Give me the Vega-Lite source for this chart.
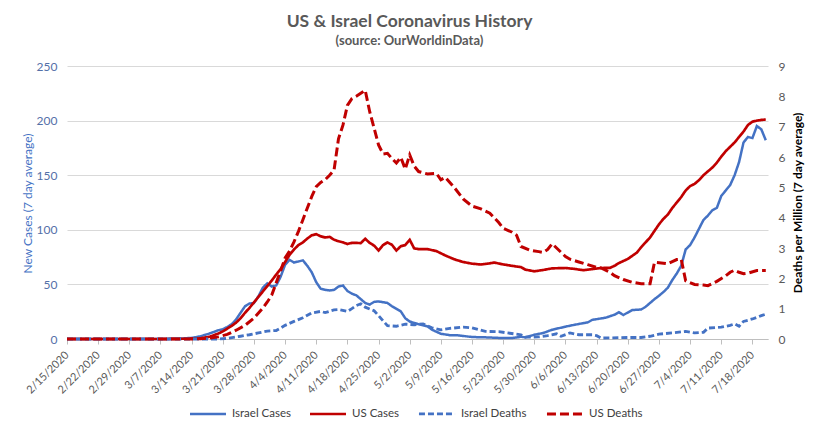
{
  "$schema": "https://vega.github.io/schema/vega-lite/v6.json",
  "description": "US & Israel coronavirus history, new cases and deaths per million (7 day average).",
  "width": 701,
  "height": 273,
  "autosize": "none",
  "padding": {"left": 67, "top": 66, "right": 54, "bottom": 96},
  "background": "white",
  "title": {
    "text": "US & Israel Coronavirus History",
    "subtitle": "(source: OurWorldinData)",
    "anchor": "middle",
    "frame": "group",
    "dx": -8,
    "offset": 12,
    "fontSize": 17.5,
    "fontWeight": "bold",
    "color": "#595959",
    "subtitleFontSize": 13,
    "subtitleFontWeight": "bold",
    "subtitleColor": "#595959",
    "subtitlePadding": 5
  },
  "data": {
    "values": [
      {"date": "2020-02-15", "series": "Israel Cases", "value": 0},
      {"date": "2020-03-08", "series": "Israel Cases", "value": 0},
      {"date": "2020-03-11", "series": "Israel Cases", "value": 0.3},
      {"date": "2020-03-14", "series": "Israel Cases", "value": 1},
      {"date": "2020-03-16", "series": "Israel Cases", "value": 2.5},
      {"date": "2020-03-18", "series": "Israel Cases", "value": 5},
      {"date": "2020-03-20", "series": "Israel Cases", "value": 8},
      {"date": "2020-03-21", "series": "Israel Cases", "value": 9},
      {"date": "2020-03-22", "series": "Israel Cases", "value": 11},
      {"date": "2020-03-23", "series": "Israel Cases", "value": 13.5},
      {"date": "2020-03-24", "series": "Israel Cases", "value": 18},
      {"date": "2020-03-25", "series": "Israel Cases", "value": 24},
      {"date": "2020-03-26", "series": "Israel Cases", "value": 30},
      {"date": "2020-03-27", "series": "Israel Cases", "value": 32.5},
      {"date": "2020-03-28", "series": "Israel Cases", "value": 33},
      {"date": "2020-03-29", "series": "Israel Cases", "value": 39},
      {"date": "2020-03-30", "series": "Israel Cases", "value": 47},
      {"date": "2020-03-31", "series": "Israel Cases", "value": 51},
      {"date": "2020-04-01", "series": "Israel Cases", "value": 48},
      {"date": "2020-04-02", "series": "Israel Cases", "value": 49},
      {"date": "2020-04-03", "series": "Israel Cases", "value": 57},
      {"date": "2020-04-04", "series": "Israel Cases", "value": 68},
      {"date": "2020-04-05", "series": "Israel Cases", "value": 72.5},
      {"date": "2020-04-06", "series": "Israel Cases", "value": 70},
      {"date": "2020-04-07", "series": "Israel Cases", "value": 71},
      {"date": "2020-04-08", "series": "Israel Cases", "value": 72},
      {"date": "2020-04-09", "series": "Israel Cases", "value": 67},
      {"date": "2020-04-10", "series": "Israel Cases", "value": 61},
      {"date": "2020-04-11", "series": "Israel Cases", "value": 52},
      {"date": "2020-04-12", "series": "Israel Cases", "value": 46},
      {"date": "2020-04-13", "series": "Israel Cases", "value": 45},
      {"date": "2020-04-14", "series": "Israel Cases", "value": 44.5},
      {"date": "2020-04-15", "series": "Israel Cases", "value": 45},
      {"date": "2020-04-16", "series": "Israel Cases", "value": 48},
      {"date": "2020-04-17", "series": "Israel Cases", "value": 49},
      {"date": "2020-04-18", "series": "Israel Cases", "value": 44},
      {"date": "2020-04-19", "series": "Israel Cases", "value": 41.5},
      {"date": "2020-04-20", "series": "Israel Cases", "value": 40},
      {"date": "2020-04-21", "series": "Israel Cases", "value": 36.5},
      {"date": "2020-04-22", "series": "Israel Cases", "value": 33},
      {"date": "2020-04-23", "series": "Israel Cases", "value": 31.5},
      {"date": "2020-04-24", "series": "Israel Cases", "value": 34},
      {"date": "2020-04-25", "series": "Israel Cases", "value": 34.4},
      {"date": "2020-04-27", "series": "Israel Cases", "value": 33},
      {"date": "2020-04-28", "series": "Israel Cases", "value": 30},
      {"date": "2020-04-30", "series": "Israel Cases", "value": 25.3},
      {"date": "2020-05-01", "series": "Israel Cases", "value": 19},
      {"date": "2020-05-02", "series": "Israel Cases", "value": 16},
      {"date": "2020-05-04", "series": "Israel Cases", "value": 13.5},
      {"date": "2020-05-06", "series": "Israel Cases", "value": 11.6},
      {"date": "2020-05-07", "series": "Israel Cases", "value": 8.5},
      {"date": "2020-05-09", "series": "Israel Cases", "value": 4.8},
      {"date": "2020-05-11", "series": "Israel Cases", "value": 3.5},
      {"date": "2020-05-13", "series": "Israel Cases", "value": 3.3},
      {"date": "2020-05-16", "series": "Israel Cases", "value": 1.8},
      {"date": "2020-05-19", "series": "Israel Cases", "value": 1.5},
      {"date": "2020-05-22", "series": "Israel Cases", "value": 1},
      {"date": "2020-05-25", "series": "Israel Cases", "value": 0.9},
      {"date": "2020-05-27", "series": "Israel Cases", "value": 2},
      {"date": "2020-05-28", "series": "Israel Cases", "value": 1.5},
      {"date": "2020-05-30", "series": "Israel Cases", "value": 3.9},
      {"date": "2020-06-01", "series": "Israel Cases", "value": 5.5},
      {"date": "2020-06-03", "series": "Israel Cases", "value": 8.5},
      {"date": "2020-06-06", "series": "Israel Cases", "value": 11.3},
      {"date": "2020-06-08", "series": "Israel Cases", "value": 13},
      {"date": "2020-06-10", "series": "Israel Cases", "value": 14.5},
      {"date": "2020-06-11", "series": "Israel Cases", "value": 15.2},
      {"date": "2020-06-12", "series": "Israel Cases", "value": 17.5},
      {"date": "2020-06-15", "series": "Israel Cases", "value": 19.5},
      {"date": "2020-06-17", "series": "Israel Cases", "value": 22.2},
      {"date": "2020-06-18", "series": "Israel Cases", "value": 24.5},
      {"date": "2020-06-19", "series": "Israel Cases", "value": 22},
      {"date": "2020-06-21", "series": "Israel Cases", "value": 26.5},
      {"date": "2020-06-23", "series": "Israel Cases", "value": 27},
      {"date": "2020-06-24", "series": "Israel Cases", "value": 29.5},
      {"date": "2020-06-26", "series": "Israel Cases", "value": 36.5},
      {"date": "2020-06-27", "series": "Israel Cases", "value": 39.6},
      {"date": "2020-06-28", "series": "Israel Cases", "value": 43},
      {"date": "2020-06-29", "series": "Israel Cases", "value": 47},
      {"date": "2020-06-30", "series": "Israel Cases", "value": 54},
      {"date": "2020-07-01", "series": "Israel Cases", "value": 60},
      {"date": "2020-07-02", "series": "Israel Cases", "value": 67},
      {"date": "2020-07-03", "series": "Israel Cases", "value": 82},
      {"date": "2020-07-04", "series": "Israel Cases", "value": 86},
      {"date": "2020-07-05", "series": "Israel Cases", "value": 93},
      {"date": "2020-07-06", "series": "Israel Cases", "value": 101},
      {"date": "2020-07-07", "series": "Israel Cases", "value": 109},
      {"date": "2020-07-08", "series": "Israel Cases", "value": 113},
      {"date": "2020-07-09", "series": "Israel Cases", "value": 118},
      {"date": "2020-07-10", "series": "Israel Cases", "value": 120},
      {"date": "2020-07-11", "series": "Israel Cases", "value": 131},
      {"date": "2020-07-12", "series": "Israel Cases", "value": 136},
      {"date": "2020-07-13", "series": "Israel Cases", "value": 141},
      {"date": "2020-07-14", "series": "Israel Cases", "value": 150},
      {"date": "2020-07-15", "series": "Israel Cases", "value": 162},
      {"date": "2020-07-16", "series": "Israel Cases", "value": 180},
      {"date": "2020-07-17", "series": "Israel Cases", "value": 185},
      {"date": "2020-07-18", "series": "Israel Cases", "value": 184},
      {"date": "2020-07-19", "series": "Israel Cases", "value": 195},
      {"date": "2020-07-20", "series": "Israel Cases", "value": 192},
      {"date": "2020-07-21", "series": "Israel Cases", "value": 182},

      {"date": "2020-02-15", "series": "US Cases", "value": 0},
      {"date": "2020-03-08", "series": "US Cases", "value": 0},
      {"date": "2020-03-14", "series": "US Cases", "value": 0.3},
      {"date": "2020-03-16", "series": "US Cases", "value": 0.6},
      {"date": "2020-03-18", "series": "US Cases", "value": 2},
      {"date": "2020-03-20", "series": "US Cases", "value": 5},
      {"date": "2020-03-21", "series": "US Cases", "value": 7},
      {"date": "2020-03-22", "series": "US Cases", "value": 9.5},
      {"date": "2020-03-23", "series": "US Cases", "value": 12},
      {"date": "2020-03-24", "series": "US Cases", "value": 15},
      {"date": "2020-03-25", "series": "US Cases", "value": 19},
      {"date": "2020-03-26", "series": "US Cases", "value": 24},
      {"date": "2020-03-27", "series": "US Cases", "value": 28.5},
      {"date": "2020-03-28", "series": "US Cases", "value": 33.5},
      {"date": "2020-03-29", "series": "US Cases", "value": 38.5},
      {"date": "2020-03-30", "series": "US Cases", "value": 43.5},
      {"date": "2020-03-31", "series": "US Cases", "value": 48.5},
      {"date": "2020-04-01", "series": "US Cases", "value": 53.5},
      {"date": "2020-04-02", "series": "US Cases", "value": 59},
      {"date": "2020-04-03", "series": "US Cases", "value": 64},
      {"date": "2020-04-04", "series": "US Cases", "value": 70.5},
      {"date": "2020-04-05", "series": "US Cases", "value": 77},
      {"date": "2020-04-06", "series": "US Cases", "value": 82},
      {"date": "2020-04-07", "series": "US Cases", "value": 86},
      {"date": "2020-04-08", "series": "US Cases", "value": 88.5},
      {"date": "2020-04-09", "series": "US Cases", "value": 92},
      {"date": "2020-04-10", "series": "US Cases", "value": 95},
      {"date": "2020-04-11", "series": "US Cases", "value": 96},
      {"date": "2020-04-12", "series": "US Cases", "value": 94},
      {"date": "2020-04-13", "series": "US Cases", "value": 93},
      {"date": "2020-04-14", "series": "US Cases", "value": 93.5},
      {"date": "2020-04-15", "series": "US Cases", "value": 91},
      {"date": "2020-04-16", "series": "US Cases", "value": 89.5},
      {"date": "2020-04-17", "series": "US Cases", "value": 88.5},
      {"date": "2020-04-18", "series": "US Cases", "value": 87},
      {"date": "2020-04-19", "series": "US Cases", "value": 88},
      {"date": "2020-04-20", "series": "US Cases", "value": 88},
      {"date": "2020-04-21", "series": "US Cases", "value": 87.8},
      {"date": "2020-04-22", "series": "US Cases", "value": 91.8},
      {"date": "2020-04-23", "series": "US Cases", "value": 88},
      {"date": "2020-04-24", "series": "US Cases", "value": 85.5},
      {"date": "2020-04-25", "series": "US Cases", "value": 81},
      {"date": "2020-04-26", "series": "US Cases", "value": 86},
      {"date": "2020-04-27", "series": "US Cases", "value": 88.4},
      {"date": "2020-04-28", "series": "US Cases", "value": 86.3},
      {"date": "2020-04-29", "series": "US Cases", "value": 81},
      {"date": "2020-04-30", "series": "US Cases", "value": 85},
      {"date": "2020-05-01", "series": "US Cases", "value": 86},
      {"date": "2020-05-02", "series": "US Cases", "value": 90.8},
      {"date": "2020-05-03", "series": "US Cases", "value": 83},
      {"date": "2020-05-04", "series": "US Cases", "value": 82.3},
      {"date": "2020-05-06", "series": "US Cases", "value": 82.3},
      {"date": "2020-05-08", "series": "US Cases", "value": 80.5},
      {"date": "2020-05-10", "series": "US Cases", "value": 76.5},
      {"date": "2020-05-12", "series": "US Cases", "value": 73},
      {"date": "2020-05-14", "series": "US Cases", "value": 70.5},
      {"date": "2020-05-16", "series": "US Cases", "value": 69},
      {"date": "2020-05-18", "series": "US Cases", "value": 68.2},
      {"date": "2020-05-20", "series": "US Cases", "value": 69.3},
      {"date": "2020-05-21", "series": "US Cases", "value": 70},
      {"date": "2020-05-23", "series": "US Cases", "value": 68.3},
      {"date": "2020-05-25", "series": "US Cases", "value": 67},
      {"date": "2020-05-27", "series": "US Cases", "value": 65.8},
      {"date": "2020-05-28", "series": "US Cases", "value": 63.5},
      {"date": "2020-05-30", "series": "US Cases", "value": 62},
      {"date": "2020-06-01", "series": "US Cases", "value": 63.2},
      {"date": "2020-06-03", "series": "US Cases", "value": 64.7},
      {"date": "2020-06-06", "series": "US Cases", "value": 65},
      {"date": "2020-06-08", "series": "US Cases", "value": 64.2},
      {"date": "2020-06-10", "series": "US Cases", "value": 63},
      {"date": "2020-06-12", "series": "US Cases", "value": 64},
      {"date": "2020-06-14", "series": "US Cases", "value": 65},
      {"date": "2020-06-16", "series": "US Cases", "value": 65.2},
      {"date": "2020-06-17", "series": "US Cases", "value": 67},
      {"date": "2020-06-18", "series": "US Cases", "value": 69.5},
      {"date": "2020-06-20", "series": "US Cases", "value": 73.3},
      {"date": "2020-06-22", "series": "US Cases", "value": 79},
      {"date": "2020-06-23", "series": "US Cases", "value": 84},
      {"date": "2020-06-24", "series": "US Cases", "value": 88.5},
      {"date": "2020-06-25", "series": "US Cases", "value": 93},
      {"date": "2020-06-26", "series": "US Cases", "value": 99},
      {"date": "2020-06-27", "series": "US Cases", "value": 105},
      {"date": "2020-06-28", "series": "US Cases", "value": 110},
      {"date": "2020-06-29", "series": "US Cases", "value": 114},
      {"date": "2020-06-30", "series": "US Cases", "value": 120},
      {"date": "2020-07-01", "series": "US Cases", "value": 125},
      {"date": "2020-07-02", "series": "US Cases", "value": 130},
      {"date": "2020-07-03", "series": "US Cases", "value": 136},
      {"date": "2020-07-04", "series": "US Cases", "value": 140},
      {"date": "2020-07-05", "series": "US Cases", "value": 142},
      {"date": "2020-07-06", "series": "US Cases", "value": 145.5},
      {"date": "2020-07-07", "series": "US Cases", "value": 150},
      {"date": "2020-07-08", "series": "US Cases", "value": 153.5},
      {"date": "2020-07-09", "series": "US Cases", "value": 157},
      {"date": "2020-07-10", "series": "US Cases", "value": 161.5},
      {"date": "2020-07-11", "series": "US Cases", "value": 167},
      {"date": "2020-07-12", "series": "US Cases", "value": 172},
      {"date": "2020-07-13", "series": "US Cases", "value": 176},
      {"date": "2020-07-14", "series": "US Cases", "value": 180},
      {"date": "2020-07-15", "series": "US Cases", "value": 185},
      {"date": "2020-07-16", "series": "US Cases", "value": 190},
      {"date": "2020-07-17", "series": "US Cases", "value": 196},
      {"date": "2020-07-18", "series": "US Cases", "value": 199},
      {"date": "2020-07-19", "series": "US Cases", "value": 200},
      {"date": "2020-07-20", "series": "US Cases", "value": 200.6},
      {"date": "2020-07-21", "series": "US Cases", "value": 201},

      {"date": "2020-02-15", "series": "Israel Deaths", "value": 0},
      {"date": "2020-03-14", "series": "Israel Deaths", "value": 0},
      {"date": "2020-03-20", "series": "Israel Deaths", "value": 0},
      {"date": "2020-03-22", "series": "Israel Deaths", "value": 0.02},
      {"date": "2020-03-25", "series": "Israel Deaths", "value": 0.09},
      {"date": "2020-03-27", "series": "Israel Deaths", "value": 0.14},
      {"date": "2020-03-29", "series": "Israel Deaths", "value": 0.2},
      {"date": "2020-03-31", "series": "Israel Deaths", "value": 0.26},
      {"date": "2020-04-02", "series": "Israel Deaths", "value": 0.28},
      {"date": "2020-04-03", "series": "Israel Deaths", "value": 0.36},
      {"date": "2020-04-04", "series": "Israel Deaths", "value": 0.45},
      {"date": "2020-04-06", "series": "Israel Deaths", "value": 0.58},
      {"date": "2020-04-08", "series": "Israel Deaths", "value": 0.7},
      {"date": "2020-04-10", "series": "Israel Deaths", "value": 0.86},
      {"date": "2020-04-12", "series": "Israel Deaths", "value": 0.91},
      {"date": "2020-04-13", "series": "Israel Deaths", "value": 0.87},
      {"date": "2020-04-15", "series": "Israel Deaths", "value": 0.96},
      {"date": "2020-04-16", "series": "Israel Deaths", "value": 0.97},
      {"date": "2020-04-18", "series": "Israel Deaths", "value": 0.91},
      {"date": "2020-04-19", "series": "Israel Deaths", "value": 1.0},
      {"date": "2020-04-20", "series": "Israel Deaths", "value": 1.1},
      {"date": "2020-04-21", "series": "Israel Deaths", "value": 1.16},
      {"date": "2020-04-22", "series": "Israel Deaths", "value": 1.05},
      {"date": "2020-04-23", "series": "Israel Deaths", "value": 0.99},
      {"date": "2020-04-24", "series": "Israel Deaths", "value": 0.93},
      {"date": "2020-04-25", "series": "Israel Deaths", "value": 0.77},
      {"date": "2020-04-26", "series": "Israel Deaths", "value": 0.6},
      {"date": "2020-04-27", "series": "Israel Deaths", "value": 0.44},
      {"date": "2020-04-29", "series": "Israel Deaths", "value": 0.42},
      {"date": "2020-05-01", "series": "Israel Deaths", "value": 0.49},
      {"date": "2020-05-03", "series": "Israel Deaths", "value": 0.47},
      {"date": "2020-05-05", "series": "Israel Deaths", "value": 0.5},
      {"date": "2020-05-07", "series": "Israel Deaths", "value": 0.37},
      {"date": "2020-05-09", "series": "Israel Deaths", "value": 0.3},
      {"date": "2020-05-11", "series": "Israel Deaths", "value": 0.35},
      {"date": "2020-05-14", "series": "Israel Deaths", "value": 0.39},
      {"date": "2020-05-16", "series": "Israel Deaths", "value": 0.37},
      {"date": "2020-05-19", "series": "Israel Deaths", "value": 0.25},
      {"date": "2020-05-22", "series": "Israel Deaths", "value": 0.24},
      {"date": "2020-05-24", "series": "Israel Deaths", "value": 0.2},
      {"date": "2020-05-27", "series": "Israel Deaths", "value": 0.14},
      {"date": "2020-05-28", "series": "Israel Deaths", "value": 0.06},
      {"date": "2020-05-31", "series": "Israel Deaths", "value": 0.07},
      {"date": "2020-06-02", "series": "Israel Deaths", "value": 0.11},
      {"date": "2020-06-04", "series": "Israel Deaths", "value": 0.17},
      {"date": "2020-06-05", "series": "Israel Deaths", "value": 0.09},
      {"date": "2020-06-07", "series": "Israel Deaths", "value": 0.2},
      {"date": "2020-06-09", "series": "Israel Deaths", "value": 0.14},
      {"date": "2020-06-12", "series": "Israel Deaths", "value": 0.14},
      {"date": "2020-06-13", "series": "Israel Deaths", "value": 0.11},
      {"date": "2020-06-14", "series": "Israel Deaths", "value": 0.03},
      {"date": "2020-06-20", "series": "Israel Deaths", "value": 0.05},
      {"date": "2020-06-23", "series": "Israel Deaths", "value": 0.05},
      {"date": "2020-06-25", "series": "Israel Deaths", "value": 0.09},
      {"date": "2020-06-27", "series": "Israel Deaths", "value": 0.16},
      {"date": "2020-06-30", "series": "Israel Deaths", "value": 0.2},
      {"date": "2020-07-03", "series": "Israel Deaths", "value": 0.25},
      {"date": "2020-07-05", "series": "Israel Deaths", "value": 0.2},
      {"date": "2020-07-07", "series": "Israel Deaths", "value": 0.22},
      {"date": "2020-07-08", "series": "Israel Deaths", "value": 0.36},
      {"date": "2020-07-11", "series": "Israel Deaths", "value": 0.39},
      {"date": "2020-07-13", "series": "Israel Deaths", "value": 0.45},
      {"date": "2020-07-14", "series": "Israel Deaths", "value": 0.5},
      {"date": "2020-07-15", "series": "Israel Deaths", "value": 0.42},
      {"date": "2020-07-16", "series": "Israel Deaths", "value": 0.58},
      {"date": "2020-07-18", "series": "Israel Deaths", "value": 0.66},
      {"date": "2020-07-20", "series": "Israel Deaths", "value": 0.77},
      {"date": "2020-07-21", "series": "Israel Deaths", "value": 0.82},

      {"date": "2020-02-15", "series": "US Deaths", "value": 0},
      {"date": "2020-03-14", "series": "US Deaths", "value": 0},
      {"date": "2020-03-16", "series": "US Deaths", "value": 0.01},
      {"date": "2020-03-18", "series": "US Deaths", "value": 0.03},
      {"date": "2020-03-20", "series": "US Deaths", "value": 0.07},
      {"date": "2020-03-22", "series": "US Deaths", "value": 0.15},
      {"date": "2020-03-24", "series": "US Deaths", "value": 0.29},
      {"date": "2020-03-26", "series": "US Deaths", "value": 0.45},
      {"date": "2020-03-28", "series": "US Deaths", "value": 0.69},
      {"date": "2020-03-30", "series": "US Deaths", "value": 1.02},
      {"date": "2020-03-31", "series": "US Deaths", "value": 1.22},
      {"date": "2020-04-01", "series": "US Deaths", "value": 1.45},
      {"date": "2020-04-02", "series": "US Deaths", "value": 1.85},
      {"date": "2020-04-03", "series": "US Deaths", "value": 2.25},
      {"date": "2020-04-04", "series": "US Deaths", "value": 2.67},
      {"date": "2020-04-05", "series": "US Deaths", "value": 2.9},
      {"date": "2020-04-06", "series": "US Deaths", "value": 3.2},
      {"date": "2020-04-07", "series": "US Deaths", "value": 3.55},
      {"date": "2020-04-08", "series": "US Deaths", "value": 3.93},
      {"date": "2020-04-09", "series": "US Deaths", "value": 4.32},
      {"date": "2020-04-10", "series": "US Deaths", "value": 4.7},
      {"date": "2020-04-11", "series": "US Deaths", "value": 5.02},
      {"date": "2020-04-12", "series": "US Deaths", "value": 5.16},
      {"date": "2020-04-13", "series": "US Deaths", "value": 5.25},
      {"date": "2020-04-14", "series": "US Deaths", "value": 5.4},
      {"date": "2020-04-15", "series": "US Deaths", "value": 5.57},
      {"date": "2020-04-16", "series": "US Deaths", "value": 6.6},
      {"date": "2020-04-17", "series": "US Deaths", "value": 7.05},
      {"date": "2020-04-18", "series": "US Deaths", "value": 7.7},
      {"date": "2020-04-19", "series": "US Deaths", "value": 7.92},
      {"date": "2020-04-20", "series": "US Deaths", "value": 8.0},
      {"date": "2020-04-21", "series": "US Deaths", "value": 8.1},
      {"date": "2020-04-22", "series": "US Deaths", "value": 8.2},
      {"date": "2020-04-23", "series": "US Deaths", "value": 7.5},
      {"date": "2020-04-24", "series": "US Deaths", "value": 6.95},
      {"date": "2020-04-25", "series": "US Deaths", "value": 6.4},
      {"date": "2020-04-26", "series": "US Deaths", "value": 6.1},
      {"date": "2020-04-27", "series": "US Deaths", "value": 6.12},
      {"date": "2020-04-28", "series": "US Deaths", "value": 5.95},
      {"date": "2020-04-29", "series": "US Deaths", "value": 5.8},
      {"date": "2020-04-30", "series": "US Deaths", "value": 5.99},
      {"date": "2020-05-01", "series": "US Deaths", "value": 5.6},
      {"date": "2020-05-02", "series": "US Deaths", "value": 6.07},
      {"date": "2020-05-03", "series": "US Deaths", "value": 5.7},
      {"date": "2020-05-04", "series": "US Deaths", "value": 5.52},
      {"date": "2020-05-06", "series": "US Deaths", "value": 5.44},
      {"date": "2020-05-08", "series": "US Deaths", "value": 5.46},
      {"date": "2020-05-09", "series": "US Deaths", "value": 5.25},
      {"date": "2020-05-10", "series": "US Deaths", "value": 5.33},
      {"date": "2020-05-12", "series": "US Deaths", "value": 5.0},
      {"date": "2020-05-14", "series": "US Deaths", "value": 4.62},
      {"date": "2020-05-16", "series": "US Deaths", "value": 4.38},
      {"date": "2020-05-18", "series": "US Deaths", "value": 4.29},
      {"date": "2020-05-20", "series": "US Deaths", "value": 4.15},
      {"date": "2020-05-22", "series": "US Deaths", "value": 3.84},
      {"date": "2020-05-23", "series": "US Deaths", "value": 3.65},
      {"date": "2020-05-25", "series": "US Deaths", "value": 3.52},
      {"date": "2020-05-26", "series": "US Deaths", "value": 3.42},
      {"date": "2020-05-27", "series": "US Deaths", "value": 3.05},
      {"date": "2020-05-29", "series": "US Deaths", "value": 2.93},
      {"date": "2020-05-31", "series": "US Deaths", "value": 2.88},
      {"date": "2020-06-01", "series": "US Deaths", "value": 2.85},
      {"date": "2020-06-02", "series": "US Deaths", "value": 2.95},
      {"date": "2020-06-03", "series": "US Deaths", "value": 3.14},
      {"date": "2020-06-04", "series": "US Deaths", "value": 3.0},
      {"date": "2020-06-06", "series": "US Deaths", "value": 2.72},
      {"date": "2020-06-07", "series": "US Deaths", "value": 2.63},
      {"date": "2020-06-09", "series": "US Deaths", "value": 2.54},
      {"date": "2020-06-11", "series": "US Deaths", "value": 2.45},
      {"date": "2020-06-13", "series": "US Deaths", "value": 2.36},
      {"date": "2020-06-14", "series": "US Deaths", "value": 2.34},
      {"date": "2020-06-16", "series": "US Deaths", "value": 2.2},
      {"date": "2020-06-17", "series": "US Deaths", "value": 2.09},
      {"date": "2020-06-19", "series": "US Deaths", "value": 1.96},
      {"date": "2020-06-21", "series": "US Deaths", "value": 1.87},
      {"date": "2020-06-23", "series": "US Deaths", "value": 1.82},
      {"date": "2020-06-25", "series": "US Deaths", "value": 1.82},
      {"date": "2020-06-26", "series": "US Deaths", "value": 2.53},
      {"date": "2020-06-28", "series": "US Deaths", "value": 2.5},
      {"date": "2020-06-29", "series": "US Deaths", "value": 2.48},
      {"date": "2020-06-30", "series": "US Deaths", "value": 2.55},
      {"date": "2020-07-01", "series": "US Deaths", "value": 2.62},
      {"date": "2020-07-02", "series": "US Deaths", "value": 2.63},
      {"date": "2020-07-03", "series": "US Deaths", "value": 1.92},
      {"date": "2020-07-05", "series": "US Deaths", "value": 1.8},
      {"date": "2020-07-07", "series": "US Deaths", "value": 1.78},
      {"date": "2020-07-08", "series": "US Deaths", "value": 1.76},
      {"date": "2020-07-10", "series": "US Deaths", "value": 1.9},
      {"date": "2020-07-12", "series": "US Deaths", "value": 2.08},
      {"date": "2020-07-13", "series": "US Deaths", "value": 2.2},
      {"date": "2020-07-14", "series": "US Deaths", "value": 2.27},
      {"date": "2020-07-15", "series": "US Deaths", "value": 2.2},
      {"date": "2020-07-16", "series": "US Deaths", "value": 2.15},
      {"date": "2020-07-17", "series": "US Deaths", "value": 2.17},
      {"date": "2020-07-19", "series": "US Deaths", "value": 2.26},
      {"date": "2020-07-21", "series": "US Deaths", "value": 2.26}
    ]
  },
  "encoding": {
    "x": {
      "field": "date",
      "type": "temporal",
      "scale": {
        "type": "utc",
        "domain": [
          {"year": 2020, "month": 2, "date": 15, "utc": true},
          {"year": 2020, "month": 7, "date": 21, "hours": 12, "utc": true}
        ]
      },
      "axis": {
        "title": null,
        "labelExpr": "utcFormat(datum.value, '%-m/%-d/%Y')",
        "values": [
          {"year": 2020, "month": 2, "date": 15, "utc": true},
          {"year": 2020, "month": 2, "date": 22, "utc": true},
          {"year": 2020, "month": 2, "date": 29, "utc": true},
          {"year": 2020, "month": 3, "date": 7, "utc": true},
          {"year": 2020, "month": 3, "date": 14, "utc": true},
          {"year": 2020, "month": 3, "date": 21, "utc": true},
          {"year": 2020, "month": 3, "date": 28, "utc": true},
          {"year": 2020, "month": 4, "date": 4, "utc": true},
          {"year": 2020, "month": 4, "date": 11, "utc": true},
          {"year": 2020, "month": 4, "date": 18, "utc": true},
          {"year": 2020, "month": 4, "date": 25, "utc": true},
          {"year": 2020, "month": 5, "date": 2, "utc": true},
          {"year": 2020, "month": 5, "date": 9, "utc": true},
          {"year": 2020, "month": 5, "date": 16, "utc": true},
          {"year": 2020, "month": 5, "date": 23, "utc": true},
          {"year": 2020, "month": 5, "date": 30, "utc": true},
          {"year": 2020, "month": 6, "date": 6, "utc": true},
          {"year": 2020, "month": 6, "date": 13, "utc": true},
          {"year": 2020, "month": 6, "date": 20, "utc": true},
          {"year": 2020, "month": 6, "date": 27, "utc": true},
          {"year": 2020, "month": 7, "date": 4, "utc": true},
          {"year": 2020, "month": 7, "date": 11, "utc": true},
          {"year": 2020, "month": 7, "date": 18, "utc": true}
        ],
        "labelAngle": -45,
        "labelAlign": "right",
        "labelBaseline": "middle",
        "labelPadding": 9,
        "labelFontSize": 11,
        "labelColor": "#595959",
        "labelOverlap": false,
        "labelFlush": false,
        "grid": false,
        "domainColor": "#bfbfbf",
        "tickColor": "#bfbfbf",
        "tickSize": 5
      }
    },
    "color": {
      "field": "series",
      "type": "nominal",
      "title": null,
      "scale": {
        "domain": ["Israel Cases", "US Cases", "Israel Deaths", "US Deaths"],
        "range": ["#4472c4", "#c00000", "#4472c4", "#c00000"]
      }
    },
    "strokeDash": {
      "field": "series",
      "type": "nominal",
      "title": null,
      "scale": {
        "domain": ["Israel Cases", "US Cases", "Israel Deaths", "US Deaths"],
        "range": [[1, 0], [1, 0], [6, 3], [9, 4]]
      }
    },
    "strokeWidth": {
      "field": "series",
      "type": "nominal",
      "title": null,
      "scale": {
        "domain": ["Israel Cases", "US Cases", "Israel Deaths", "US Deaths"],
        "range": [2.5, 3, 2.5, 3]
      }
    }
  },
  "layer": [
    {
      "transform": [{"filter": {"field": "series", "oneOf": ["Israel Cases", "US Cases"]}}],
      "mark": {"type": "line", "interpolate": "linear"},
      "encoding": {
        "y": {
          "field": "value",
          "type": "quantitative",
          "scale": {"domain": [0, 250], "nice": false},
          "axis": {
            "title": "New Cases (7 day  average)",
            "titleColor": "#4472c4",
            "titleFontWeight": "normal",
            "titleFontSize": 12,
            "titleAngle": 270,
            "titleAlign": "center",
            "titleBaseline": "middle",
            "titleX": -40,
            "titleY": 137,
            "values": [0, 50, 100, 150, 200, 250],
            "labelColor": "#5470a8",
            "labelFontSize": 12,
            "labelPadding": 10,
            "domain": false,
            "ticks": false,
            "grid": true,
            "gridColor": "#d9d9d9",
            "gridWidth": 1
          }
        }
      }
    },
    {
      "transform": [{"filter": {"field": "series", "oneOf": ["Israel Deaths", "US Deaths"]}}],
      "mark": {"type": "line", "interpolate": "linear"},
      "encoding": {
        "y": {
          "field": "value",
          "type": "quantitative",
          "scale": {"domain": [0, 9], "nice": false},
          "axis": {
            "orient": "right",
            "title": "Deaths per Million  (7 day average)",
            "titleAngle": 270,
            "titleBaseline": "top",
            "titleColor": "#000000",
            "titleFontWeight": "bold",
            "titleFontSize": 12,
            "titlePadding": 8,
            "values": [0, 1, 2, 3, 4, 5, 6, 7, 8, 9],
            "labelColor": "#595959",
            "labelFontSize": 12,
            "labelPadding": 10,
            "domain": false,
            "ticks": false,
            "grid": false
          }
        }
      }
    }
  ],
  "resolve": {"scale": {"y": "independent"}},
  "config": {
    "font": "Lato",
    "view": {"stroke": null},
    "legend": {
      "orient": "none",
      "legendX": 121,
      "legendY": 328,
      "direction": "horizontal",
      "columns": 4,
      "symbolType": "stroke",
      "symbolSize": 1300,
      "labelFontSize": 11.5,
      "labelColor": "#404040",
      "labelOffset": 4,
      "columnPadding": 13,
      "padding": 0
    }
  }
}
